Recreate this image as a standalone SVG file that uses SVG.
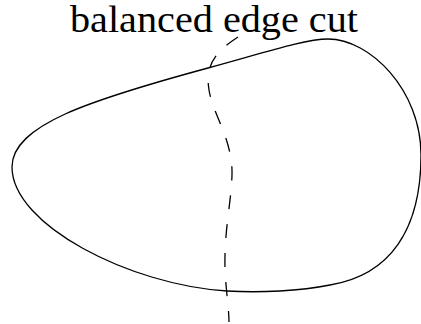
<svg xmlns="http://www.w3.org/2000/svg" width="421" height="324" viewBox="0 0 421 324">
  <style>
    .curve { fill: none; stroke: #000; stroke-width: 1.3; stroke-linecap: butt; }
    .cut { stroke-dasharray: 14 15; }
    .label { font-family: "Liberation Serif", "DejaVu Serif", serif; font-size: 37px; fill: #000; }
  </style>
  <rect width="421" height="324" fill="#fff"/>
  <g id="region">
    <path class="curve" d="M12,167 C12,125 90,100 208,68 C260,54 305,39 328,39 C370,39 421,90 421,155 C421,230 390,275 330,285 C300,291 260,293 227,291 C130,285 12,225 12,167 Z"/>
  </g>
  <g id="cut">
    <path class="curve cut" d="M238,37 C215,52 205,65 209,90 C213,115 233,140 232,175 C231,205 224,230 225,270 C226,290 229,310 229,322"/>
  </g>
  <g id="title">
    <text class="label" x="70" y="32" textLength="288" lengthAdjust="spacingAndGlyphs">balanced edge cut</text>
  </g>
</svg>
